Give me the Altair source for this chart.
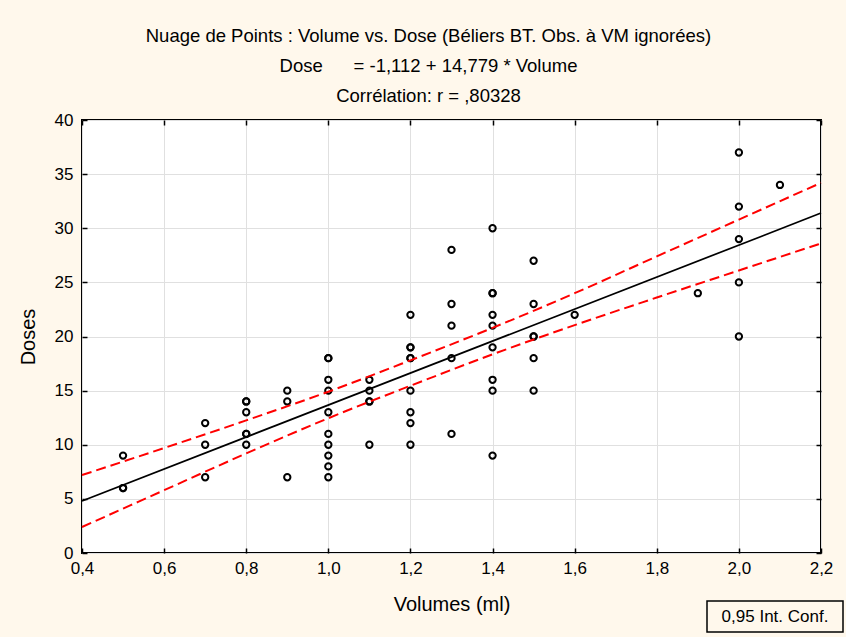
import altair as alt
import pandas as pd

# Observations: semen volume (ml) and number of doses per ejaculate
volumes = [
    0.5, 0.5, 0.5,
    0.7, 0.7, 0.7,
    0.8, 0.8, 0.8, 0.8, 0.8, 0.8,
    0.9, 0.9, 0.9,
    1.0, 1.0, 1.0, 1.0, 1.0, 1.0, 1.0, 1.0, 1.0, 1.0,
    1.1, 1.1, 1.1, 1.1, 1.1,
    1.2, 1.2, 1.2, 1.2, 1.2, 1.2, 1.2, 1.2, 1.2,
    1.3, 1.3, 1.3, 1.3, 1.3,
    1.4, 1.4, 1.4, 1.4, 1.4, 1.4, 1.4, 1.4, 1.4,
    1.5, 1.5, 1.5, 1.5, 1.5, 1.5,
    1.6,
    1.9,
    2.0, 2.0, 2.0, 2.0, 2.0,
    2.1,
]
doses = [
    9, 6, 6,
    12, 10, 7,
    14, 14, 13, 11, 11, 10,
    15, 14, 7,
    18, 18, 16, 15, 13, 11, 10, 9, 8, 7,
    16, 15, 14, 14, 10,
    22, 19, 19, 18, 18, 15, 13, 12, 10,
    28, 23, 21, 18, 11,
    30, 24, 24, 22, 21, 19, 16, 15, 9,
    27, 23, 20, 20, 18, 15,
    22,
    24,
    37, 32, 29, 25, 20,
    34,
]

# Fitted regression: Dose = -1,112 + 14,779 * Volume
intercept = -1.112
slope = 14.779
fit_x = [0.4, 2.2]

# 0,95 confidence band around the fitted line
band_x = [0.4, 0.6, 0.8, 1.0, 1.2, 1.4, 1.6, 1.8, 2.0, 2.2]
band_upper = [7.2, 9.7, 12.25, 14.9, 17.8, 20.8, 24.0, 27.4, 30.8, 34.2]
band_lower = [2.4, 5.8, 9.2, 12.45, 15.45, 18.35, 21.05, 23.6, 26.1, 28.6]

x_ticks = [0.4, 0.6, 0.8, 1.0, 1.2, 1.4, 1.6, 1.8, 2.0, 2.2]
y_ticks = [0, 5, 10, 15, 20, 25, 30, 35, 40]

title_lines = [
    "Nuage de Points : Volume vs. Dose (Béliers BT. Obs. à VM ignorées)",
    "Dose\u00a0\u00a0\u00a0\u00a0\u00a0\u00a0= -1,112 + 14,779 * Volume",
    "Corrélation: r = ,80328",
]
legend_text = ["0,95 Int. Conf."]

FONT = "Liberation Sans"
W, H = 739, 433

points_df = pd.DataFrame({"Volume": volumes, "Dose": doses})
fit_df = pd.DataFrame({"Volume": fit_x})
fit_df["Dose"] = intercept + slope * fit_df["Volume"]
band_df = pd.DataFrame({"Volume": band_x, "upper": band_upper, "lower": band_lower})
legend_df = pd.DataFrame({"label": legend_text})

x_scale = alt.Scale(domain=[0.4, 2.2], nice=False, zero=False)
y_scale = alt.Scale(domain=[0, 40], nice=False, zero=False)
comma_fmt = "replace(format(datum.value, '.1f'), '.', ',')"

# Labelled axes with grid (no ticks)
x_main = alt.Axis(
    orient="bottom", values=x_ticks, labelExpr=comma_fmt, title="Volumes (ml)",
    grid=True, gridColor="#e0e0e0", gridWidth=1, ticks=False, domain=False,
    labelFont=FONT, labelFontSize=17, labelColor="black", labelPadding=7,
    labelFlush=False, labelOverlap=False,
    titleFont=FONT, titleFontSize=20, titleFontWeight="normal", titleColor="black",
    titlePadding=18,
)
y_main = alt.Axis(
    orient="left", values=y_ticks, title="Doses",
    grid=True, gridColor="#e0e0e0", gridWidth=1, ticks=False, domain=False,
    labelFont=FONT, labelFontSize=17, labelColor="black", labelPadding=9,
    labelFlush=False, labelOverlap=False,
    titleFont=FONT, titleFontSize=20, titleFontWeight="normal", titleColor="black",
    titlePadding=16,
)


def tick_axis(orient, values):
    # inward tick marks only, drawn just inside the frame
    return alt.Axis(
        orient=orient, values=values, offset=-5, tickSize=5, tickWidth=1.5,
        tickColor="black", labels=False, domain=False, grid=False, title=None,
    )


points = alt.Chart(points_df).mark_point(
    shape="circle", filled=False, color="black", strokeWidth=2, size=40, opacity=1
).encode(
    x=alt.X("Volume:Q", scale=x_scale, axis=x_main),
    y=alt.Y("Dose:Q", scale=y_scale, axis=y_main),
)

fit_line = alt.Chart(fit_df).mark_line(color="black", strokeWidth=1.7).encode(
    x=alt.X("Volume:Q", scale=x_scale, axis=tick_axis("bottom", x_ticks)),
    y=alt.Y("Dose:Q", scale=y_scale, axis=tick_axis("left", y_ticks)),
)

upper_line = alt.Chart(band_df).mark_line(
    color="#ff0000", strokeWidth=2, strokeDash=[10, 5], interpolate="monotone"
).encode(
    x=alt.X("Volume:Q", scale=x_scale, axis=tick_axis("top", x_ticks)),
    y=alt.Y("upper:Q", scale=y_scale, axis=tick_axis("right", y_ticks)),
)

lower_line = alt.Chart(band_df).mark_line(
    color="#ff0000", strokeWidth=2, strokeDash=[10, 5], interpolate="monotone"
).encode(
    x=alt.X("Volume:Q", scale=x_scale, axis=None),
    y=alt.Y("lower:Q", scale=y_scale, axis=None),
)

legend_box = alt.Chart(legend_df).mark_rect(
    fill="transparent", stroke="black", strokeWidth=1.5
).encode(
    x=alt.value(625), x2=alt.value(761), y=alt.value(481), y2=alt.value(512)
)

legend_label = alt.Chart(legend_df).mark_text(
    font=FONT, fontSize=17, color="black", align="center", baseline="middle"
).encode(x=alt.value(693), y=alt.value(497), text="label:N")

chart = alt.layer(
    points, fit_line, upper_line, lower_line, legend_box, legend_label
).resolve_axis(
    x="independent", y="independent"
).resolve_scale(
    x="shared", y="shared"
).properties(
    width=W,
    height=H,
    title=alt.TitleParams(
        text=title_lines, font=FONT, fontSize=18.5, fontWeight="normal", color="black",
        lineHeight=30, anchor="middle", dx=-23, offset=6,
    ),
    background="#fff8ec",
    padding={"left": 82, "top": 120, "right": 25, "bottom": 84},
    autosize=alt.AutoSizeParams(type="none"),
).configure_view(
    fill="white", stroke="black", strokeWidth=2
)

chart.save("out.html", embed_options={"renderer": "svg", "actions": False})
